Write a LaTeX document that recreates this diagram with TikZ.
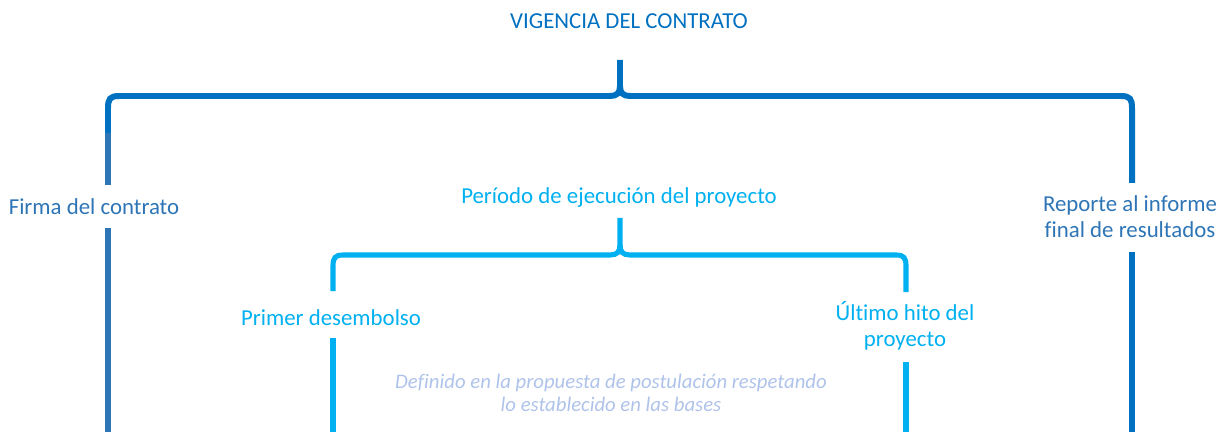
\documentclass[tikz,border=0pt]{standalone}
\usepackage{fontspec}
\setmainfont{Carlito}[Ligatures=NoCommon]
\definecolor{dblue}{HTML}{0070C0}
\definecolor{mblue}{HTML}{2E75B6}
\definecolor{lblue}{HTML}{00B0F0}
\definecolor{pale}{HTML}{AFC3EA}
\begin{document}
\begin{tikzpicture}[x=0.02cm,y=-0.02cm,
  lbl/.style={inner sep=0pt, align=center, font=\fontsize{13}{14.8}\selectfont},
  note/.style={inner sep=0pt, align=center, text=pale, font=\fontsize{11.8}{13}\selectfont\itshape},
  outer/.style={line width=3.4pt, line cap=butt},
  inner/.style={line width=2.9pt, line cap=butt}]
\useasboundingbox (0,0) rectangle (1223,432);
% labels
\node[lbl, text=dblue] (vig) at (629,21) {VIGENCIA DEL CONTRATO};
\node[lbl, text=mblue] (firma) at (94,207) {Firma del contrato};
\node[lbl, text=mblue] (rep) at (1130,217) {Reporte al informe\\final de resultados};
\node[lbl, text=lblue] (per) at (619,198) {Período de ejecución del proyecto};
\node[lbl, text=lblue] (prim) at (331,318) {Primer desembolso};
\node[lbl, text=lblue] (ult) at (905,326) {Último hito del\\proyecto};
\node[note] (def) at (611,393) {Definido en la propuesta de postulación respetando\\lo establecido en las bases};
% coordinates
\coordinate (ostem) at (620,60);
\coordinate (ocusp) at (620,86);
\coordinate (ol1) at (108,133);
\coordinate (ol2) at (108,185);
\coordinate (ol3) at (108,228);
\coordinate (ol4) at (108,432);
\coordinate (or1) at (1132,183);
\coordinate (or3) at (1132,252);
\coordinate (or4) at (1132,432);
\coordinate (istem) at (620,218);
\coordinate (icusp) at (620,245);
\coordinate (il1) at (333,291);
\coordinate (il3) at (333,338);
\coordinate (il4) at (333,432);
\coordinate (ir1) at (906,292);
\coordinate (ir3) at (906,362);
\coordinate (ir4) at (906,432);
% outer brace
\draw[outer, dblue] (ol1) -- (108,108) .. controls (108,99) and (110,96) .. (119,96) -- (610,96) .. controls (617,96) and (620,93) .. (ocusp) -- (ostem);
\draw[outer, dblue] (ocusp) .. controls (620,93) and (623,96) .. (630,96) -- (1121,96) .. controls (1130,96) and (1132,99) .. (1132,108) -- (or1);
\draw[outer, mblue] (ol1) -- (ol2);
\draw[outer, mblue] (ol3) -- (ol4);
\draw[outer, dblue] (or3) -- (or4);
% inner brace
\draw[inner, lblue] (il1) -- (333,266) .. controls (333,258) and (335,255) .. (343,255) -- (610,255) .. controls (617,255) and (620,252) .. (icusp) -- (istem);
\draw[inner, lblue] (icusp) .. controls (620,252) and (623,255) .. (630,255) -- (896,255) .. controls (904,255) and (906,258) .. (906,266) -- (ir1);
\draw[inner, lblue] (il3) -- (il4);
\draw[inner, lblue] (ir3) -- (ir4);
\end{tikzpicture}
\end{document}
